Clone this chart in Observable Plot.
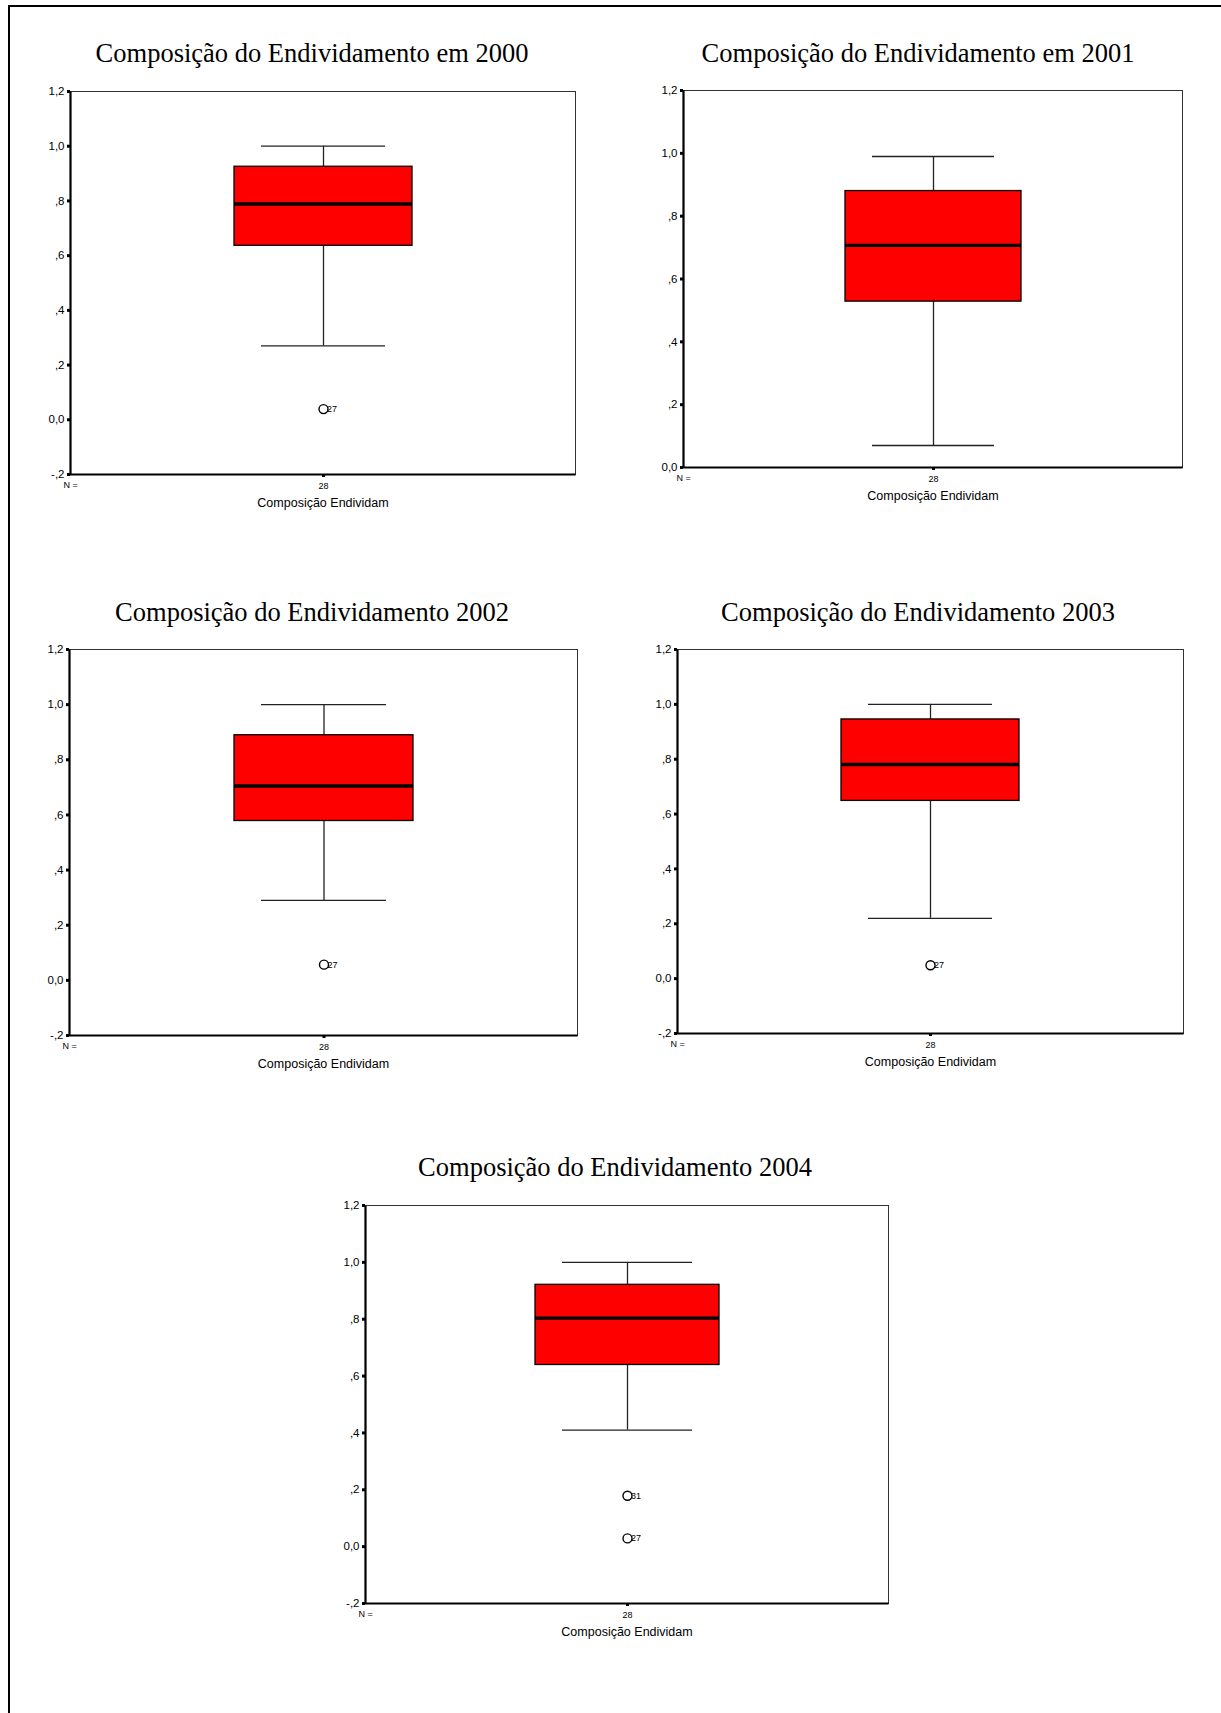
<!DOCTYPE html>
<html>
<head>
<meta charset="utf-8">
<script src="https://cdn.jsdelivr.net/npm/d3@7"></script>
<script src="https://cdn.jsdelivr.net/npm/@observablehq/plot@0.6"></script>
<style>
  html, body { margin: 0; padding: 0; background: #fff; }
  #page { position: relative; width: 1221px; height: 1713px; overflow: hidden; background: #fff; }
  #border { position: absolute; left: 8px; top: 5px; right: -10px; bottom: -10px;
            border-top: 2px solid #000; border-left: 2px solid #000; }
  .title { position: absolute; font-family: "Liberation Serif", "Times New Roman", serif;
           font-size: 26.5px; line-height: 30px; white-space: nowrap; color: #000;
           transform: translate(-50%, -50%); }
  .panel { position: absolute; }
</style>
</head>
<body>
<div id="page"><div id="border"></div></div>
<script>
// Box-plot summaries of "Composição Endividam" per year (SPSS-style boxplots).
const years = [2000, 2001, 2002, 2003, 2004];
const titles = [
  "Composição do Endividamento em 2000",
  "Composição do Endividamento em 2001",
  "Composição do Endividamento 2002",
  "Composição do Endividamento 2003",
  "Composição do Endividamento 2004"
];
const variable = "Composição Endividam";
const nCases = [28, 28, 28, 28, 28];
const whiskerLow = [0.27, 0.07, 0.29, 0.22, 0.41];
const q1 = [0.636, 0.528, 0.578, 0.648, 0.639];
const median = [0.789, 0.707, 0.705, 0.781, 0.804];
const q3 = [0.925, 0.880, 0.889, 0.945, 0.921];
const whiskerHigh = [1.0, 0.99, 1.0, 1.0, 1.0];

// Outliers: year, value and case number
const outlierYear = [2000, 2002, 2003, 2004, 2004];
const outlierValue = [0.039, 0.057, 0.049, 0.179, 0.029];
const outlierCase = ["27", "27", "27", "31", "27"];

// Y axis extent and tick labels (comma decimals, leading zero dropped)
const yMin = [-0.2, 0, -0.2, -0.2, -0.2];
const yMax = 1.2;
const tickValues = [-0.2, 0, 0.2, 0.4, 0.6, 0.8, 1.0, 1.2];
const tickLabels = ["-,2", "0,0", ",2", ",4", ",6", ",8", "1,0", "1,2"];

// Page layout: plot frame [left, top, right, bottom] and title centre for each panel
const frames = [
  [70, 91, 575, 474],
  [683, 90, 1182, 467],
  [69, 649, 577, 1035],
  [677, 649, 1183, 1033],
  [365, 1205, 888, 1603]
];
const titleCenters = [[312, 53], [918, 53], [312, 612], [918, 612], [615, 1167]];

const page = document.getElementById("page");
const M = {top: 8, right: 6, bottom: 48, left: 46};

years.forEach((year, i) => {
  const [fl, ft, fr, fb] = frames[i];
  const W = fr - fl, H = fb - ft;

  const box = [{cat: variable, lo: whiskerLow[i], q1: q1[i], med: median[i], q3: q3[i], hi: whiskerHigh[i]}];
  const outs = outlierYear
    .map((y, j) => ({year: y, cat: variable, value: outlierValue[j], id: outlierCase[j]}))
    .filter(d => d.year === year);
  const ticks = tickValues.filter(t => t >= yMin[i] - 1e-9);

  const chart = Plot.plot({
    width: W + M.left + M.right,
    height: H + M.top + M.bottom,
    marginTop: M.top, marginRight: M.right, marginBottom: M.bottom, marginLeft: M.left,
    style: {fontFamily: "'Liberation Sans', Arial, sans-serif", background: "transparent", color: "#000"},
    x: {type: "band", domain: [variable], padding: 0.479, axis: null},
    y: {domain: [yMin[i], yMax], axis: null},
    marks: [
      // thin frame, then heavier left and bottom axis lines
      Plot.frame({stroke: "#333", strokeWidth: 1}),
      Plot.frame({stroke: "#000", strokeWidth: 2.2, strokeDasharray: `0 ${W + H} ${W + H}`}),
      Plot.axisY({ticks, tickFormat: d => tickLabels[tickValues.indexOf(d)], tickSize: 3, tickPadding: 3,
                  strokeWidth: 3, fontSize: 11.5, label: null}),
      Plot.axisX({tickSize: 3, tickPadding: 5, strokeWidth: 3, fontSize: 9, label: null,
                  tickFormat: () => String(nCases[i])}),
      Plot.text(["N ="], {frameAnchor: "bottom-left", dy: 13, fontSize: 9, textAnchor: "middle"}),
      Plot.text([variable], {frameAnchor: "bottom", dy: 32, fontSize: 12.5}),
      // whiskers and caps
      Plot.ruleX(box, {x: "cat", y1: "lo", y2: "hi", stroke: "#222", strokeWidth: 1.3}),
      Plot.tickY(box, {x: "cat", y: "lo", stroke: "#222", strokeWidth: 1.3, insetLeft: 27, insetRight: 27}),
      Plot.tickY(box, {x: "cat", y: "hi", stroke: "#222", strokeWidth: 1.3, insetLeft: 27, insetRight: 27}),
      // interquartile box and median
      Plot.barY(box, {x: "cat", y1: "q1", y2: "q3", fill: "#ff0000", stroke: "#000", strokeWidth: 1.3}),
      Plot.tickY(box, {x: "cat", y: "med", stroke: "#000", strokeWidth: 3.4}),
      // outliers with case numbers
      Plot.dot(outs, {x: "cat", y: "value", r: 4.5, stroke: "#000", fill: "#fff", strokeWidth: 1.4}),
      Plot.text(outs, {x: "cat", y: "value", text: "id", dx: 3.5, textAnchor: "start", fontSize: 9})
    ]
  });

  const holder = document.createElement("div");
  holder.className = "panel";
  holder.style.left = (fl - M.left) + "px";
  holder.style.top = (ft - M.top) + "px";
  holder.appendChild(chart);
  page.appendChild(holder);

  const t = document.createElement("div");
  t.className = "title";
  t.textContent = titles[i];
  t.style.left = titleCenters[i][0] + "px";
  t.style.top = titleCenters[i][1] + "px";
  page.appendChild(t);
});
</script>
</body>
</html>
